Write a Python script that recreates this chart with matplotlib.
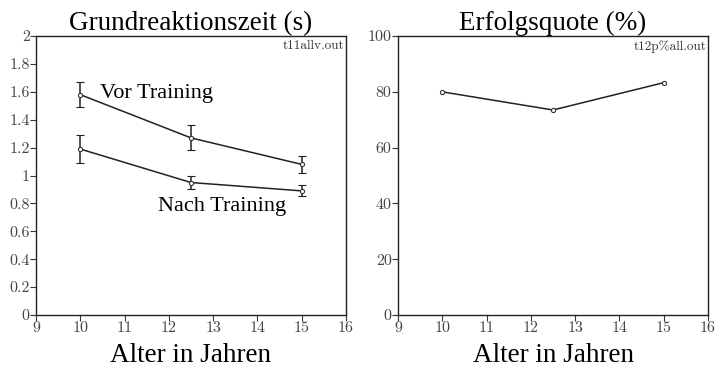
import numpy as np
import matplotlib.pyplot as plt

# Alter der Gruppen (Jahre)
alter = [10, 12.5, 15]

# Grundreaktionszeit in s, Mittelwert und Fehler
vor_training = [1.58, 1.27, 1.08]
vor_fehler = [0.09, 0.09, 0.06]
nach_training = [1.19, 0.95, 0.89]
nach_fehler = [0.10, 0.05, 0.04]

# Erfolgsquote in %
erfolgsquote = [80.0, 73.5, 83.3]

xticks = list(range(9, 17))
rt_ticks = [0, 0.2, 0.4, 0.6, 0.8, 1, 1.2, 1.4, 1.6, 1.8, 2]
rt_labels = ['0', '0.2', '0.4', '0.6', '0.8', '1', '1.2', '1.4', '1.6', '1.8', '2']
eq_ticks = [0, 20, 40, 60, 80, 100]

plt.rcParams['font.family'] = 'Liberation Serif'

fig = plt.figure(figsize=(7.18, 3.67), dpi=100)
ax1 = fig.add_axes([0.0501, 0.1417, 0.4318, 0.760])
ax2 = fig.add_axes([0.5543, 0.1417, 0.4318, 0.760])

tick_font = {'family': 'cmr10', 'size': 11.5, 'color': '#444444'}


def style_axes(ax, title, note):
    ax.set_xlim(9, 16)
    ax.set_xticks(xticks)
    ax.set_xticklabels([str(t) for t in xticks], fontdict=tick_font)
    ax.tick_params(direction='out', length=4, width=0.8, pad=0.5, color='#333333')
    ax.tick_params(axis='x', top=False)
    ax.tick_params(axis='y', right=False)
    for s in ax.spines.values():
        s.set_linewidth(1.0)
        s.set_color('#222222')
    ax.set_title(title, fontsize=19.5, pad=3)
    ax.set_xlabel('Alter in Jahren', fontsize=19.5, labelpad=6)
    ax.text(0.995, 0.985, note, transform=ax.transAxes, ha='right', va='top',
            fontsize=9.5, family='cmr10', color='#333333')


# Reaktionszeit vor und nach dem Training
ax1.errorbar(alter, vor_training, yerr=vor_fehler, color='#222222', lw=1.1,
             marker='o', ms=3, mfc='white', mec='#333333', mew=0.8,
             capsize=3, elinewidth=1.1, capthick=1.1)
ax1.errorbar(alter, nach_training, yerr=nach_fehler, color='#222222', lw=1.1,
             marker='o', ms=3, mfc='white', mec='#333333', mew=0.8,
             capsize=3, elinewidth=1.1, capthick=1.1)
ax1.set_ylim(0, 2)
ax1.set_yticks(rt_ticks)
ax1.set_yticklabels(rt_labels, fontdict=tick_font)
ax1.text(10.45, 1.585, 'Vor Training', fontsize=16, va='center')
ax1.text(11.75, 0.775, 'Nach Training', fontsize=16, va='center')
style_axes(ax1, 'Grundreaktionszeit (s)', 't11allv.out')

# Erfolgsquote
ax2.plot(alter, erfolgsquote, color='#222222', lw=1.1, marker='o', ms=3,
         mfc='white', mec='#333333', mew=0.8)
ax2.set_ylim(0, 100)
ax2.set_yticks(eq_ticks)
ax2.set_yticklabels([str(t) for t in eq_ticks], fontdict=tick_font)
style_axes(ax2, 'Erfolgsquote (%)', 't12p%all.out')

fig.savefig('out.png', dpi=100)
